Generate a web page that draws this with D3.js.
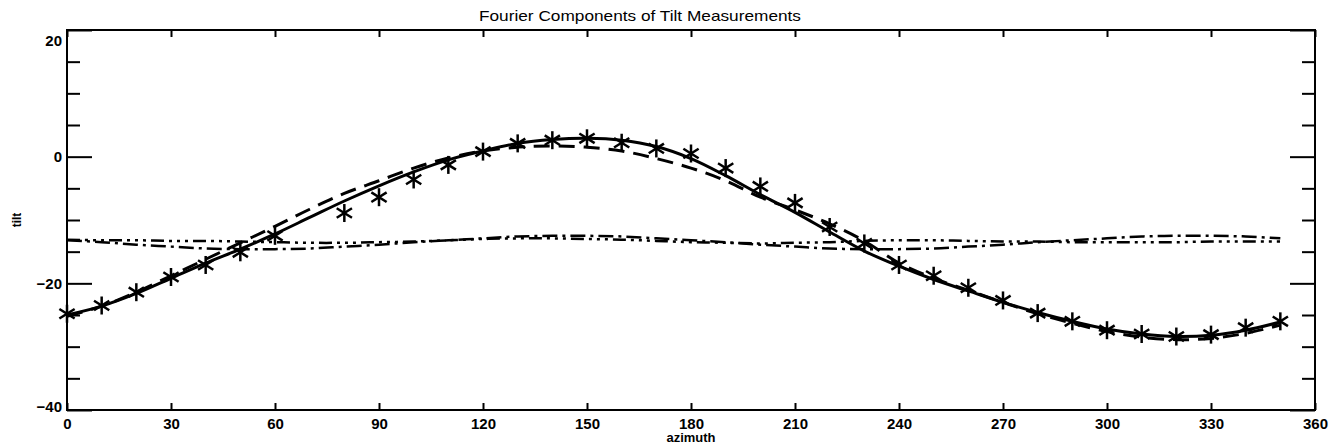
<!DOCTYPE html>
<html>
<head>
<meta charset="utf-8">
<script src="https://cdn.jsdelivr.net/npm/d3@7"></script>
<style>
  html, body { margin: 0; padding: 0; background: #fff; }
  svg { display: block; }
  text { fill: #000; }
</style>
</head>
<body>
<svg id="chart" width="1332" height="448"></svg>
<script>
// ---- data ----
const azimuth = [0,10,20,30,40,50,60,70,80,90,100,110,120,130,140,150,160,170,180,190,200,210,220,230,240,250,260,270,280,290,300,310,320,330,340,350];
const measuredAz = [0,10,20,30,40,50,60,80,90,100,110,120,130,140,150,160,170,180,190,200,210,220,230,240,250,260,270,280,290,300,310,320,330,340,350];
const measured = [-24.8,-23.5,-21.4,-19.0,-17.1,-15.1,-12.5,-8.9,-6.4,-3.6,-1.3,0.8,2.1,2.6,2.9,2.2,1.3,0.5,-1.8,-4.7,-7.3,-11.1,-13.7,-17.1,-18.8,-20.7,-22.7,-24.7,-26.0,-27.4,-28.0,-28.4,-28.1,-27.0,-26.0];
const fitSolid = [-25.0,-23.6,-21.6,-19.2,-16.8,-14.6,-12.2,-9.6,-7.0,-4.6,-2.4,-0.5,0.9,2.1,2.7,2.9,2.6,1.6,-0.3,-3.0,-6.0,-8.8,-11.9,-14.9,-17.3,-19.4,-21.2,-23.0,-24.6,-26.0,-27.2,-28.0,-28.4,-28.2,-27.4,-26.1];
const fitDashed = [-25.2,-23.6,-21.4,-18.8,-16.2,-13.6,-11.0,-8.3,-5.8,-3.8,-1.8,-0.2,0.9,1.5,1.7,1.5,0.9,-0.3,-1.8,-3.8,-6.4,-8.4,-10.6,-13.3,-16.8,-19.2,-21.1,-23.0,-24.8,-26.3,-27.6,-28.5,-28.9,-28.7,-27.9,-26.6];
const compA = [-13.2,-13.5,-13.9,-14.2,-14.5,-14.6,-14.6,-14.5,-14.2,-13.9,-13.5,-13.2,-12.9,-12.6,-12.5,-12.5,-12.6,-12.9,-13.2,-13.5,-13.9,-14.2,-14.5,-14.6,-14.6,-14.5,-14.2,-13.9,-13.5,-13.2,-12.9,-12.6,-12.5,-12.5,-12.6,-12.9];
const compB = [-13.1,-13.2,-13.2,-13.3,-13.3,-13.4,-13.5,-13.6,-13.6,-13.5,-13.4,-13.2,-13.0,-12.9,-12.9,-13.0,-13.1,-13.3,-13.5,-13.6,-13.7,-13.6,-13.5,-13.3,-13.2,-13.2,-13.3,-13.4,-13.4,-13.5,-13.5,-13.5,-13.5,-13.4,-13.4,-13.4];
const xTicks = [0,30,60,90,120,150,180,210,240,270,300,330,360];
const yTicks = [-40,-20,0,20];
const yMinorTicks = [-35,-30,-25,-15,-10,-5,5,10,15];
const title = "Fourier Components of Tilt Measurements";
const xLabel = "azimuth";
const yLabel = "tilt";

// ---- layout ----
const svg = d3.select("#chart");
const L = 67, R = 1315, T = 30, B = 410;
const x = d3.scaleLinear().domain([0, 360]).range([L, R]);
const y = d3.scaleLinear().domain([-40, 20]).range([B, T]);
const font = "'Liberation Sans', Arial, Helvetica, sans-serif";

// frame
svg.append("rect").attr("x", L).attr("y", T).attr("width", R - L).attr("height", B - T)
  .attr("fill", "none").attr("stroke", "#000").attr("stroke-width", 2);

function styleAxis(g, showText) {
  g.select(".domain").remove();
  g.selectAll(".tick line").attr("stroke", "#000").attr("stroke-width", 2);
  g.selectAll(".tick text").attr("font-family", font).attr("font-weight", "bold")
    .attr("font-size", 15).attr("fill", "#000");
  if (!showText) g.selectAll(".tick text").remove();
}

// x axes
const gxb = svg.append("g").attr("transform", `translate(0,${B})`)
  .call(d3.axisBottom(x).tickValues(xTicks).tickSize(-7).tickPadding(8).tickFormat(d3.format("d")));
styleAxis(gxb, true);
const gxt = svg.append("g").attr("transform", `translate(0,${T})`)
  .call(d3.axisTop(x).tickValues(xTicks).tickSize(-7));
styleAxis(gxt, false);

// y axes
const gyl = svg.append("g").attr("transform", `translate(${L},0)`)
  .call(d3.axisLeft(y).tickValues(yTicks).tickSize(-25).tickPadding(5).tickFormat(d3.format("d")));
styleAxis(gyl, true);
gyl.selectAll(".tick text").attr("dx", 0).attr("x", -5)
  .attr("dy", d => d === 20 ? "1.05em" : (d === -40 ? "0.1em" : "0.32em"));
const gylm = svg.append("g").attr("transform", `translate(${L},0)`)
  .call(d3.axisLeft(y).tickValues(yMinorTicks).tickSize(-13));
styleAxis(gylm, false);
const gyr = svg.append("g").attr("transform", `translate(${R},0)`)
  .call(d3.axisRight(y).tickValues(yTicks).tickSize(-25));
styleAxis(gyr, false);
const gyrm = svg.append("g").attr("transform", `translate(${R},0)`)
  .call(d3.axisRight(y).tickValues(yMinorTicks).tickSize(-13));
styleAxis(gyrm, false);

// titles
svg.append("text").attr("x", 640).attr("y", 21).attr("text-anchor", "middle")
  .attr("font-family", font).attr("font-size", 15)
  .attr("textLength", 322).attr("lengthAdjust", "spacingAndGlyphs").text(title);
svg.append("text").attr("x", (L + R) / 2).attr("y", 442).attr("text-anchor", "middle")
  .attr("font-family", font).attr("font-weight", "bold").attr("font-size", 12)
  .attr("textLength", 49).attr("lengthAdjust", "spacingAndGlyphs").text(xLabel);
svg.append("text").attr("transform", `translate(21,${(T + B) / 2}) rotate(-90)`)
  .attr("text-anchor", "middle").attr("font-family", font).attr("font-weight", "bold")
  .attr("font-size", 12).text(yLabel);

// lines
const line = d3.line().x(d => x(d[0])).y(d => y(d[1])).curve(d3.curveCatmullRom);
function drawLine(vals, dash, w) {
  svg.append("path").datum(azimuth.map((a, i) => [a, vals[i]]))
    .attr("d", line).attr("fill", "none").attr("stroke", "#000")
    .attr("stroke-width", w).attr("stroke-dasharray", dash);
}
drawLine(compA, "15,5,3,5", 2.5);
drawLine(compB, "13,5,3,5,3,5,3,5", 2.5);
drawLine(fitDashed, "16,9", 3);
drawLine(fitSolid, null, 3);

// asterisks
const r = 9;
const arms = [90, 32, -32];
const stars = svg.append("g");
measuredAz.forEach((a, i) => {
  const cx = x(a), cy = y(measured[i]);
  arms.forEach(deg => {
    const rad = deg * Math.PI / 180;
    const dx = r * Math.cos(rad), dy = r * Math.sin(rad);
    stars.append("line").attr("x1", cx - dx).attr("y1", cy - dy)
      .attr("x2", cx + dx).attr("y2", cy + dy)
      .attr("stroke", "#000").attr("stroke-width", 2.5);
  });
});
</script>
</body>
</html>
